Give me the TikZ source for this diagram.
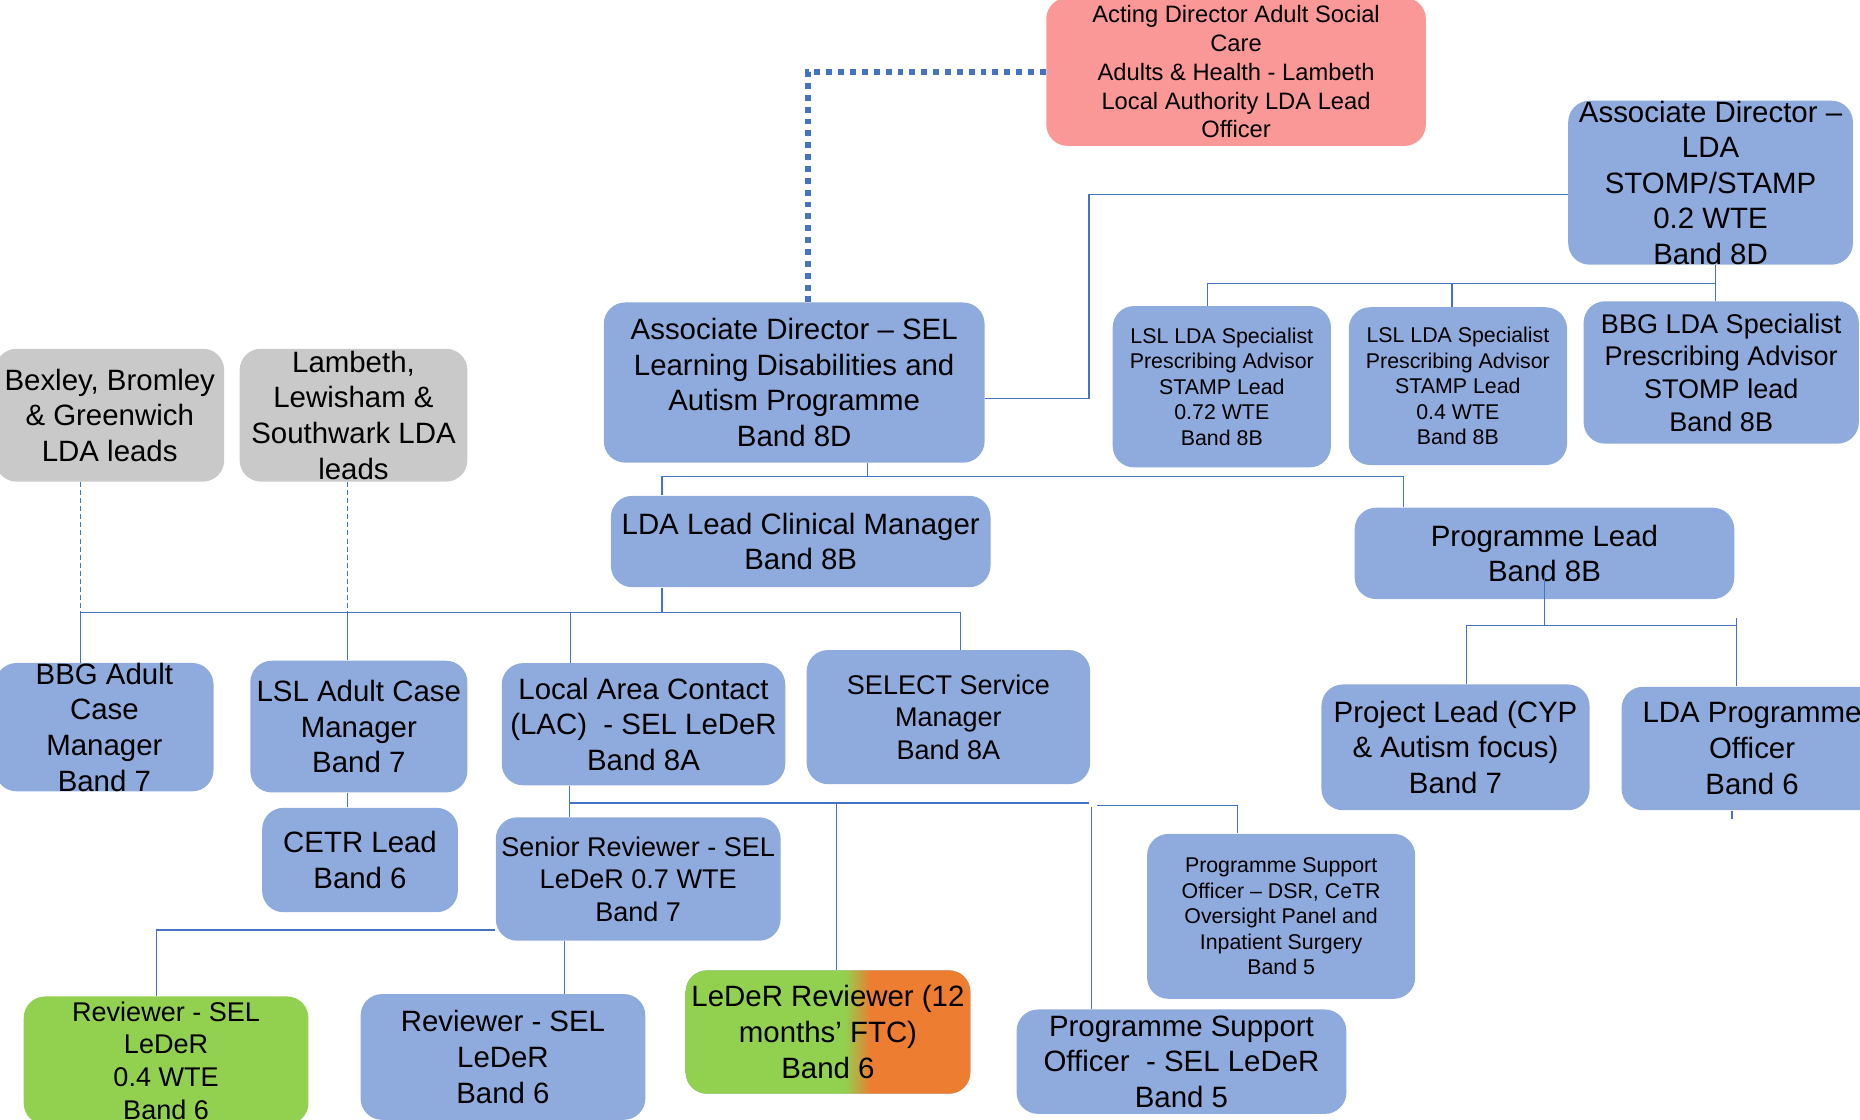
\documentclass[tikz,border=0pt]{standalone}
\usepackage{fontspec}
\setmainfont{Liberation Sans}
\usepackage{xcolor}
\definecolor{roleblue}{HTML}{8FAADC}
\definecolor{linkblue}{HTML}{4472C4}
\definecolor{leadgray}{HTML}{C9C9C9}
\definecolor{lapink}{HTML}{FA9898}
\definecolor{ftcgreen}{HTML}{92D050}
\definecolor{ftcorange}{HTML}{ED7D31}
\pgfdeclarehorizontalshading{ftcsplit}{100bp}{color(0bp)=(ftcgreen); color(53bp)=(ftcgreen); color(57.5bp)=(ftcorange); color(100bp)=(ftcorange)}

\begin{document}
\begin{tikzpicture}[x=0.5pt, y=-0.5pt]
                \tikzstyle{role} = [shape=rectangle, rounded corners=9pt, fill=roleblue, align=center, inner sep=0pt, font=\fontsize{12.4}{15}\selectfont];
                \tikzstyle{roleMid} = [font=\fontsize{11.4}{13.75}\selectfont];
                \tikzstyle{roleSmall} = [font=\fontsize{9}{10.75}\selectfont];
                \tikzstyle{link} = [draw=linkblue, line width=0.5pt];
                \tikzstyle{dotlink} = [draw=linkblue, line width=2.5pt, dash pattern=on 2.5pt off 2.5pt];
                \tikzstyle{dashlink} = [draw=linkblue, line width=0.45pt, dash pattern=on 2.1pt off 1.3pt];

                \useasboundingbox (0,0) rectangle (1568,944);

                \node[role, fill=lapink, font=\fontsize{10}{12.15}\selectfont, minimum width=160pt, minimum height=62.5pt] (acting) at (1042,60.5) {Acting Director Adult Social\\Care\\Adults \& Health - Lambeth\\Local Authority LDA Lead\\Officer};
                \node[role, minimum width=120pt, minimum height=68pt] (assocLDA) at (1442,154) {Associate Director –\\LDA\\STOMP/STAMP\\0.2 WTE\\Band 8D};
                \node[role, minimum width=160.5pt, minimum height=67.5pt] (assocSEL) at (669.5,322.5) {Associate Director – SEL\\Learning Disabilities and\\Autism Programme\\Band 8D};
                \node[role, fill=leadgray, minimum width=96.5pt, minimum height=56pt] (bexley) at (92.5,350) {Bexley, Bromley\\\& Greenwich\\LDA leads};
                \node[role, fill=leadgray, minimum width=96pt, minimum height=56pt] (lambeth) at (298,350) {Lambeth,\\Lewisham \&\\Southwark LDA\\leads};
                \node[role, roleSmall, minimum width=92pt, minimum height=68pt] (lslA) at (1030,326) {LSL LDA Specialist\\Prescribing Advisor\\STAMP Lead\\0.72 WTE\\Band 8B};
                \node[role, roleSmall, minimum width=92pt, minimum height=66.5pt] (lslB) at (1229,325.5) {LSL LDA Specialist\\Prescribing Advisor\\STAMP Lead\\0.4 WTE\\Band 8B};
                \node[role, roleMid, minimum width=116pt, minimum height=60pt] (bbgSpec) at (1451,314) {BBG LDA Specialist\\Prescribing Advisor\\STOMP lead\\Band 8B};
                \node[role, minimum width=160pt, minimum height=38.5pt] (ldaLead) at (675,456.5) {LDA Lead Clinical Manager\\Band 8B};
                \node[role, minimum width=160pt, minimum height=38.5pt] (progLead) at (1302,466.5) {Programme Lead\\Band 8B};
                \node[role, minimum width=92pt, minimum height=53pt] (bbgCase) at (88,613) {BBG Adult\\Case\\Manager\\Band 7};
                \node[role, minimum width=91.5pt, minimum height=55.5pt] (lslCase) at (302.5,612.5) {LSL Adult Case\\Manager\\Band 7};
                \node[role, minimum width=119.5pt, minimum height=51.5pt] (lac) at (542.5,610.5) {Local Area Contact\\(LAC)\ \ - SEL LeDeR\\Band 8A};
                \node[role, roleMid, minimum width=119.5pt, minimum height=56.5pt] (select) at (799.5,604.5) {SELECT Service\\Manager\\Band 8A};
                \node[role, minimum width=113pt, minimum height=53pt] (projLead) at (1227,630) {Project Lead (CYP\\\& Autism focus)\\Band 7};
                \node[role, minimum width=110pt, minimum height=52pt] (ldaOfficer) at (1477,631) {LDA Programme\\Officer\\Band 6};
                \node[role, minimum width=82.5pt, minimum height=44pt] (cetr) at (303.5,725) {CETR Lead\\Band 6};
                \node[role, roleMid, minimum width=120pt, minimum height=52pt] (senior) at (538,741) {Senior Reviewer - SEL\\LeDeR 0.7 WTE\\Band 7};
                \node[role, roleSmall, minimum width=113pt, minimum height=69.5pt] (supportDSR) at (1080,772.5) {Programme Support\\Officer – DSR, CeTR\\Oversight Panel and\\Inpatient Surgery\\Band 5};
                \node[role, roleMid, fill=ftcgreen, minimum width=120pt, minimum height=54pt] (reviewerA) at (140,894) {Reviewer - SEL\\LeDeR\\0.4 WTE\\Band 6};
                \node[role, minimum width=120pt, minimum height=53pt] (reviewerB) at (424,891) {Reviewer - SEL\\LeDeR\\Band 6};
                \node[role, shade, shading=ftcsplit, minimum width=120pt, minimum height=52pt] (reviewerC) at (698,870) {LeDeR Reviewer (12\\months’ FTC)\\Band 6};
                \node[role, minimum width=139pt, minimum height=44pt] (supportLeDeR) at (996,895) {Programme Support\\Officer\ \ - SEL LeDeR\\Band 5};

                \coordinate (tapAct) at (681,60.5);
                \coordinate (tapLDA) at (918,164);
                \coordinate (tapSEL) at (918,336);
                \coordinate (busSpecL) at (1018,239);
                \coordinate (busSpecM) at (1224,239);
                \coordinate (busSpecR) at (1446,239);
                \coordinate (busSelL) at (558,402);
                \coordinate (busSelM) at (731,402);
                \coordinate (busSelR) at (1183,402);
                \coordinate (busLead) at (558,516);
                \coordinate (dropBBG) at (68,516);
                \coordinate (dropLSL) at (293,516);
                \coordinate (dropLAC) at (481,516);
                \coordinate (dropSEL) at (810,516);
                \coordinate (busLacL) at (480,677);
                \coordinate (busLacR) at (918,677);
                \coordinate (dropFTC) at (705,677);
                \coordinate (dropSupp) at (920,680);
                \coordinate (busDSRL) at (925,679);
                \coordinate (busDSRR) at (1043,679);
                \coordinate (tapSenior) at (132,784);
                \coordinate (dropRev) at (476,800);
                \coordinate (busProgL) at (1236,527);
                \coordinate (busProgM) at (1302,527);
                \coordinate (busProgR) at (1464,527);

                \draw[dotlink] (acting.west |- tapAct) -- (tapAct) -- (tapAct |- assocSEL.north);
                \draw[link] (assocLDA.west |- tapLDA) -- (tapLDA) -- (tapSEL) -- (assocSEL.east |- tapSEL);
                \draw[link]
                    (busSpecL |- lslA.north) -- (busSpecL) -- (busSpecR)
                    (busSpecM) -- (busSpecM |- lslB.north)
                    (busSpecR |- assocLDA.south) -- (busSpecR |- bbgSpec.north)
                    (busSelM |- assocSEL.south) -- (busSelM)
                    (busSelL |- ldaLead.north) -- (busSelL) -- (busSelR) -- (busSelR |- progLead.north)
                    (busLead |- ldaLead.south) -- (busLead)
                    (dropBBG |- bbgCase.north) -- (dropBBG) -- (dropSEL) -- (dropSEL |- select.north)
                    (dropLSL) -- (dropLSL |- lslCase.north)
                    (dropLAC) -- (dropLAC |- lac.north)
                    (dropLSL |- lslCase.south) -- (dropLSL |- cetr.north)
                    (busLacL |- lac.south) -- (busLacL |- senior.north)
                    (busLacL) -- (busLacR)
                    (dropFTC) -- (dropFTC |- reviewerC.north)
                    (dropSupp) -- (dropSupp |- supportLeDeR.north)
                    (busDSRL) -- (busDSRR) -- (busDSRR |- supportDSR.north)
                    (senior.west |- tapSenior) -- (tapSenior) -- (tapSenior |- reviewerA.north)
                    (dropRev |- senior.south) -- (dropRev |- reviewerB.north)
                    ([yshift=-8pt]progLead.center) -- (busProgM)
                    (busProgL |- projLead.north) -- (busProgL) -- (busProgR)
                    ([yshift=3pt]busProgR) -- (busProgR |- ldaOfficer.north)
                    ([xshift=-8.5pt]ldaOfficer.south) -- ++(0,7)
                ;
                \draw[dashlink] (dropBBG |- bexley.south) -- (dropBBG) (dropLSL |- lambeth.south) -- (dropLSL);
\end{tikzpicture}
\end{document}
